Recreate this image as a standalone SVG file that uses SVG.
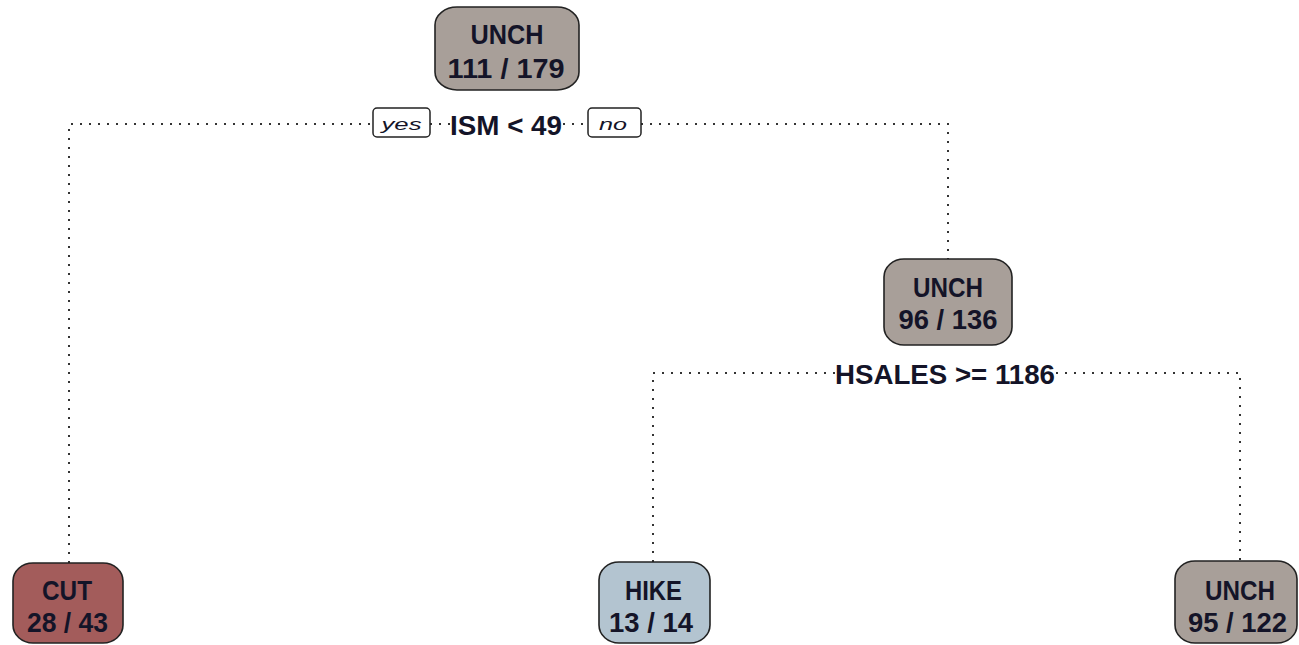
<svg xmlns="http://www.w3.org/2000/svg" width="1299" height="645" viewBox="0 0 1299 645">
<style>
.bg{fill:#ffffff}
.node{stroke:#222;stroke-width:1.6}
.unch{fill:#a89f99}
.cut{fill:#a35c5b}
.hike{fill:#b3c4d0}
.t{font-family:"Liberation Sans Narrow","Liberation Sans",Arial,sans-serif;font-weight:bold;font-size:28px;fill:#141428;text-anchor:middle}
.lab{font-family:"Liberation Sans",Arial,sans-serif;font-style:italic;font-size:17px;fill:#141428;text-anchor:middle}
.conn{fill:none;stroke:#333;stroke-width:2;stroke-dasharray:2 7;stroke-linecap:butt}
.lbox{fill:#fff;stroke:#222;stroke-width:1.5}
</style>
<rect class="bg" x="0" y="0" width="1299" height="645"/>
<g id="connectors">
<path class="conn" d="M69,563 V124 H373"/>
<path class="conn" d="M430,124 H450"/>
<path class="conn" d="M563,124 H588"/>
<path class="conn" d="M641,124 H948 V259"/>
<path class="conn" d="M653,562 V373 H835"/>
<path class="conn" d="M1056,373 H1240 V561"/>
</g>
<g id="split-root">
<rect class="lbox" x="373" y="108" width="57" height="29" rx="4"/>
<text class="lab" x="401.5" y="130" textLength="40" lengthAdjust="spacingAndGlyphs">yes</text>
<text class="t" x="506" y="135" textLength="112" lengthAdjust="spacingAndGlyphs">ISM &lt; 49</text>
<rect class="lbox" x="588" y="108" width="53" height="29" rx="4"/>
<text class="lab" x="613" y="130" textLength="28" lengthAdjust="spacingAndGlyphs">no</text>
</g>
<g id="split-node2">
<text class="t" x="945" y="384" textLength="220" lengthAdjust="spacingAndGlyphs">HSALES &gt;= 1186</text>
</g>
<g id="node-root">
<rect class="node unch" x="435" y="7" width="144" height="83" rx="22" ry="18"/>
<text class="t" x="507" y="44" textLength="73" lengthAdjust="spacingAndGlyphs">UNCH</text>
<text class="t" x="506" y="78" textLength="117" lengthAdjust="spacingAndGlyphs">111 / 179</text>
</g>
<g id="node-2">
<rect class="node unch" x="884" y="259" width="128" height="86" rx="20" ry="18"/>
<text class="t" x="948" y="297" textLength="70" lengthAdjust="spacingAndGlyphs">UNCH</text>
<text class="t" x="948" y="329" textLength="99" lengthAdjust="spacingAndGlyphs">96 / 136</text>
</g>
<g id="leaf-cut">
<rect class="node cut" x="13" y="563" width="110" height="80" rx="20" ry="18"/>
<text class="t" x="67" y="600" textLength="50" lengthAdjust="spacingAndGlyphs">CUT</text>
<text class="t" x="67.5" y="632" textLength="81" lengthAdjust="spacingAndGlyphs">28 / 43</text>
</g>
<g id="leaf-hike">
<rect class="node hike" x="599" y="562" width="111" height="81" rx="20" ry="18"/>
<text class="t" x="653.5" y="600" textLength="57" lengthAdjust="spacingAndGlyphs">HIKE</text>
<text class="t" x="651" y="632" textLength="84" lengthAdjust="spacingAndGlyphs">13 / 14</text>
</g>
<g id="leaf-unch">
<rect class="node unch" x="1175" y="561" width="122" height="82" rx="20" ry="18"/>
<text class="t" x="1240" y="600" textLength="70" lengthAdjust="spacingAndGlyphs">UNCH</text>
<text class="t" x="1237.5" y="632" textLength="99" lengthAdjust="spacingAndGlyphs">95 / 122</text>
</g>
</svg>
